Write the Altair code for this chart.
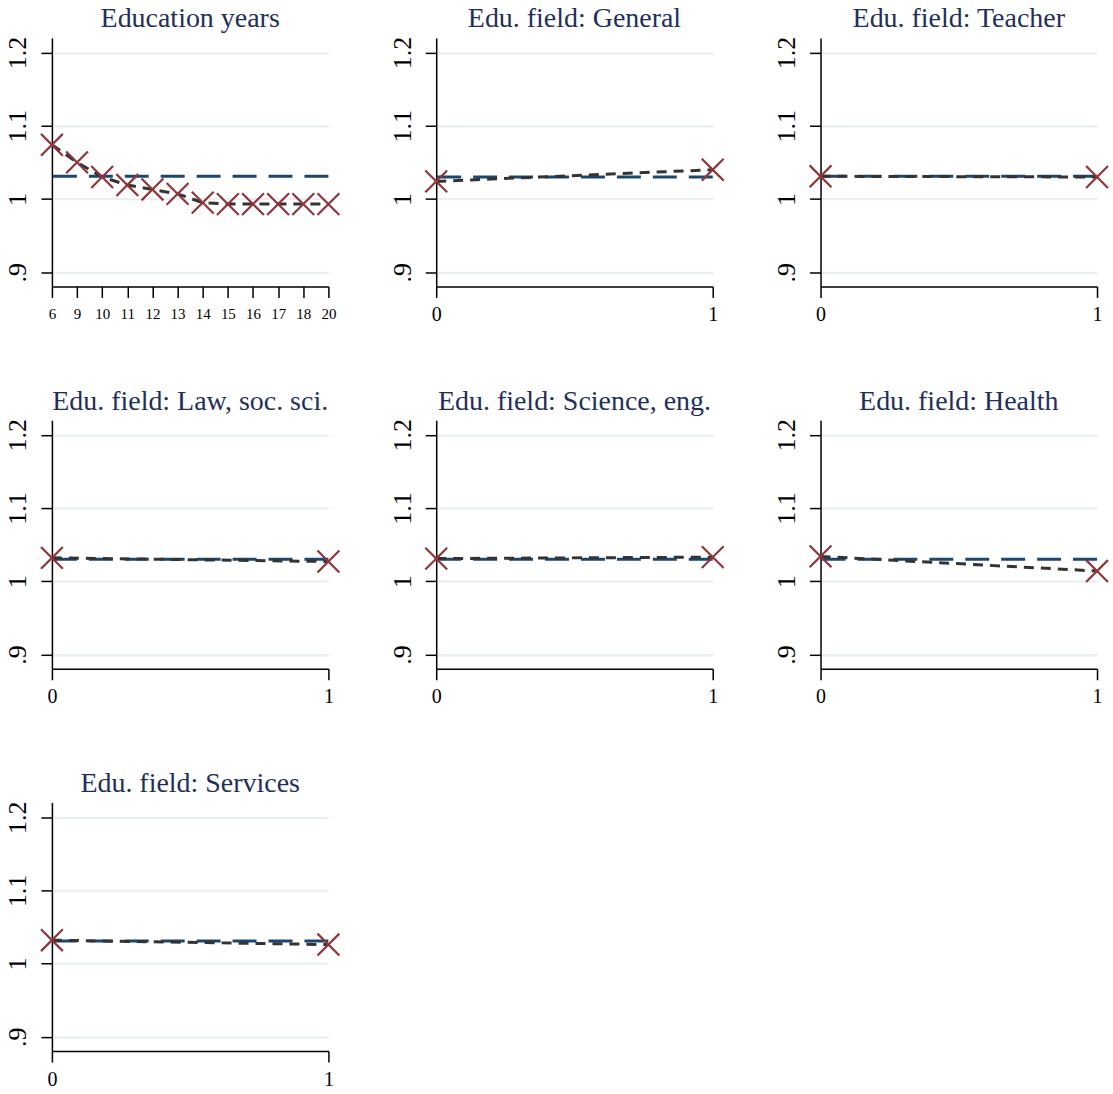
import altair as alt
import pandas as pd

# ---- data ----
years = [6, 9, 10, 11, 12, 13, 14, 15, 16, 17, 18, 20]
years_vals = [1.074, 1.050, 1.030, 1.019, 1.013, 1.007, 0.995, 0.993, 0.993, 0.993, 0.993, 0.993]
years_mean = 1.031

field_titles = [
    "Edu. field: General",
    "Edu. field: Teacher",
    "Edu. field: Law, soc. sci.",
    "Edu. field: Science, eng.",
    "Edu. field: Health",
    "Edu. field: Services",
]
field_x = [0, 1]
field_vals = [
    [1.024, 1.040],
    [1.031, 1.030],
    [1.032, 1.027],
    [1.031, 1.033],
    [1.034, 1.014],
    [1.032, 1.026],
]
field_means = [1.030, 1.031, 1.030, 1.030, 1.030, 1.031]

y_ticks = [0.9, 1.0, 1.1, 1.2]

# ---- style ----
W, H = 277, 249
NAVY = "#1a476f"
RED = "#8f353b"
GRAY = "#333333"
TITLE_C = "#1f2f5c"
GRID_C = "#e9f0f2"
FONT = "Liberation Serif"
XPATH = "M-1,-1L1,1M1,-1L-1,1"

yscale = alt.Scale(domain=[0.8805, 1.22], nice=False, zero=False)
yaxis = alt.Axis(
    values=y_ticks,
    labelExpr="datum.value < 0.95 ? '.9' : format(datum.value, '.1~f')",
    labelAngle=270,
    labelFontSize=26,
    labelPadding=10,
    tickSize=11,
    grid=True,
    gridColor=GRID_C,
    gridWidth=2.5,
    title=None,
)


def panel(df, xenc, mean, title):
    rule = alt.Chart(pd.DataFrame({"m": [mean]})).mark_rule(
        color=NAVY, strokeWidth=3, strokeDash=[24, 12]
    ).encode(y=alt.Y("m:Q", scale=yscale, axis=yaxis))
    line = alt.Chart(df).mark_line(
        color=GRAY, strokeWidth=3, strokeDash=[10, 7]
    ).encode(x=xenc, y=alt.Y("v:Q", scale=yscale, axis=yaxis))
    pts = alt.Chart(df).mark_point(
        shape=XPATH, size=480, filled=False, stroke=RED, strokeWidth=2.2, opacity=1
    ).encode(x=xenc, y=alt.Y("v:Q", scale=yscale, axis=yaxis))
    return alt.layer(rule, line, pts).properties(
        width=W,
        height=H,
        title=alt.TitleParams(
            text=title,
            font=FONT,
            fontSize=28,
            fontWeight="normal",
            color=TITLE_C,
            anchor="middle",
            baseline="alphabetic",
            offset=-19,
        ),
    )


panels = []
df_years = pd.DataFrame({"x": years, "v": years_vals})
x_years = alt.X(
    "x:O",
    sort=years,
    scale=alt.Scale(type="point", padding=0),
    axis=alt.Axis(labelAngle=0, labelFontSize=15, labelPadding=9, tickSize=11, title=None),
)
panels.append(panel(df_years, x_years, years_mean, "Education years"))

for t, vals, m in zip(field_titles, field_vals, field_means):
    df = pd.DataFrame({"x": field_x, "v": vals})
    xenc = alt.X(
        "x:Q",
        scale=alt.Scale(domain=[0, 1], nice=False, zero=False),
        axis=alt.Axis(values=[0, 1], format="d", labelFontSize=20, labelPadding=7,
                      tickSize=11, grid=False, title=None),
    )
    panels.append(panel(df, xenc, m, t))

chart = alt.ConcatChart(
    concat=panels,
    columns=3,
    spacing={"row": 134, "column": 108},
    bounds="flush",
).properties(
    padding={"left": 5, "top": 4, "right": 0, "bottom": 2},
    background="white",
).configure_axis(
    labelFont=FONT,
    labelColor="black",
    domainColor="black",
    tickColor="black",
    domainWidth=1.5,
    tickWidth=1.5,
    labelFlush=False,
).configure_view(stroke=None)

chart.save("out.html", embed_options={"renderer": "svg", "actions": False})
